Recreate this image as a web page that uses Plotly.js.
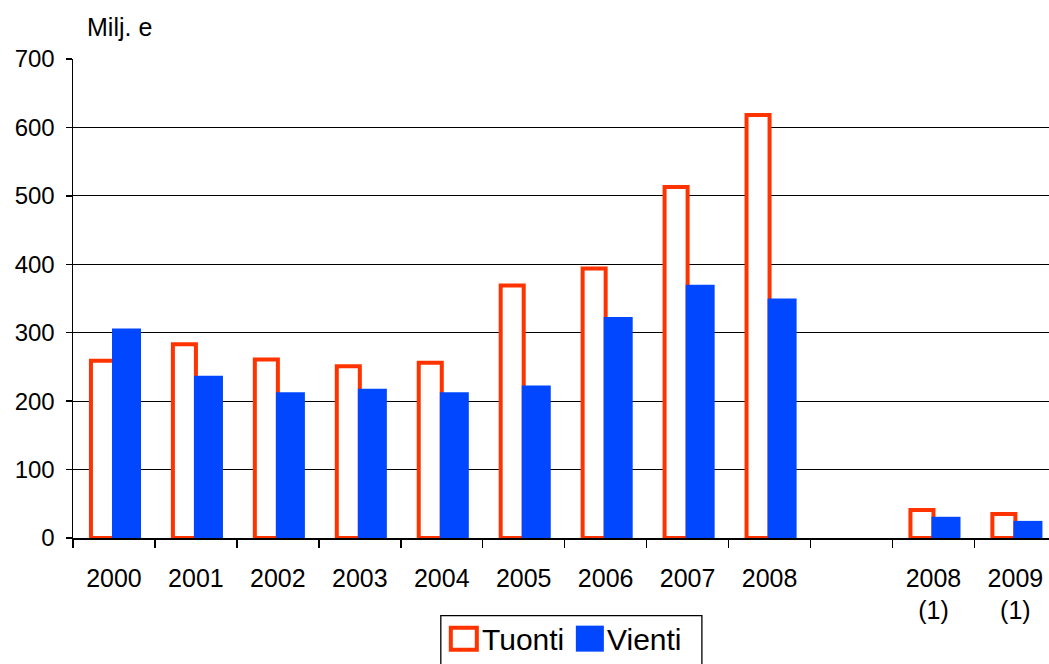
<!DOCTYPE html>
<html>
<head>
<meta charset="utf-8">
<script src="https://cdn.plot.ly/plotly-3.0.1.min.js"></script>
<style>html,body{margin:0;padding:0;background:#fff;}#chart{width:1049px;height:664px;}</style>
</head>
<body>
<div id="chart"></div>
<script>
const categories = ["2000","2001","2002","2003","2004","2005","2006","2007","2008"," ","2008<br>(1)","2009<br>(1)"];
const tuonti = [259, 283, 261, 251, 256, 369, 394, 513, 618, null, 41, 35];
const vienti = [306, 237, 213, 218, 213, 223, 323, 370, 350, null, 31, 25];
const seriesNames = ["Tuonti", "Vienti"];
const yTicks = [0, 100, 200, 300, 400, 500, 600, 700];

const RED = "#FF3300", BLUE = "#0047FF";
const FONT = "Liberation Sans, Arial, sans-serif";

const traces = [
  {type:"bar", name:seriesNames[0], x:categories, y:tuonti, offset:-0.281, width:0.281,
   marker:{color:"#ffffff", line:{color:RED, width:4}}, showlegend:false, hoverinfo:"x+y"},
  {type:"bar", name:seriesNames[1], x:categories, y:vienti, offset:-0.024, width:0.354,
   marker:{color:BLUE, line:{width:0}}, showlegend:false, hoverinfo:"x+y"}
];

// legend drawn in paper coordinates
const lx = px => (px - 73.3) / 975.7;
const ly = py => (538.3 - py) / 479.3;

const layout = {
  width:1049, height:664,
  margin:{l:73, r:0, t:59, b:126, pad:0},
  paper_bgcolor:"#fff", plot_bgcolor:"#fff",
  barmode:"overlay",
  font:{family:FONT, size:24, color:"#000"},
  title:{text:"Milj. e", xref:"container", yref:"container", x:87/1049, xanchor:"left",
         y:1-27/664, yanchor:"middle", font:{family:FONT, size:25, color:"#000"}},
  xaxis:{type:"category", categoryorder:"array", categoryarray:categories,
         range:[-0.5, 11.41], tickson:"boundaries", ticks:"outside", ticklen:8, tickcolor:"#000", tickwidth:1.5,
         showline:true, linecolor:"#000", linewidth:1.5, showgrid:false, zeroline:false,
         ticklabelstandoff:17,
         tickfont:{family:FONT, size:25, color:"#000"}, fixedrange:true},
  yaxis:{range:[0,700], tickvals:yTicks, ticktext:yTicks.map(String), ticks:"outside", ticklen:6,
         tickcolor:"#000", tickwidth:1.5, showline:true, linecolor:"#000", linewidth:1.5,
         showgrid:true, gridcolor:"#000", gridwidth:1, zeroline:false, ticklabelstandoff:6,
         tickfont:{family:FONT, size:24, color:"#000"}, fixedrange:true},
  shapes:[
    {type:"rect", xref:"paper", yref:"paper", x0:lx(441), x1:lx(702), y0:ly(700), y1:ly(616),
     line:{color:"#000", width:1.3}, fillcolor:"rgba(0,0,0,0)"},
    {type:"rect", xref:"paper", yref:"paper", x0:lx(451), x1:lx(477), y0:ly(650), y1:ly(628),
     line:{color:RED, width:4}, fillcolor:"#fff"},
    {type:"rect", xref:"paper", yref:"paper", x0:lx(576), x1:lx(604), y0:ly(652), y1:ly(626),
     line:{width:0}, fillcolor:BLUE}
  ],
  annotations:[
    {xref:"paper", yref:"paper", x:lx(480), y:ly(640), xanchor:"left", yanchor:"middle", showarrow:false,
     text:seriesNames[0], font:{family:FONT, size:30, color:"#000"}},
    {xref:"paper", yref:"paper", x:lx(605), y:ly(640), xanchor:"left", yanchor:"middle", showarrow:false,
     text:seriesNames[1], font:{family:FONT, size:30, color:"#000"}}
  ]
};

Plotly.newPlot("chart", traces, layout, {displayModeBar:false, staticPlot:true});
</script>
</body>
</html>
